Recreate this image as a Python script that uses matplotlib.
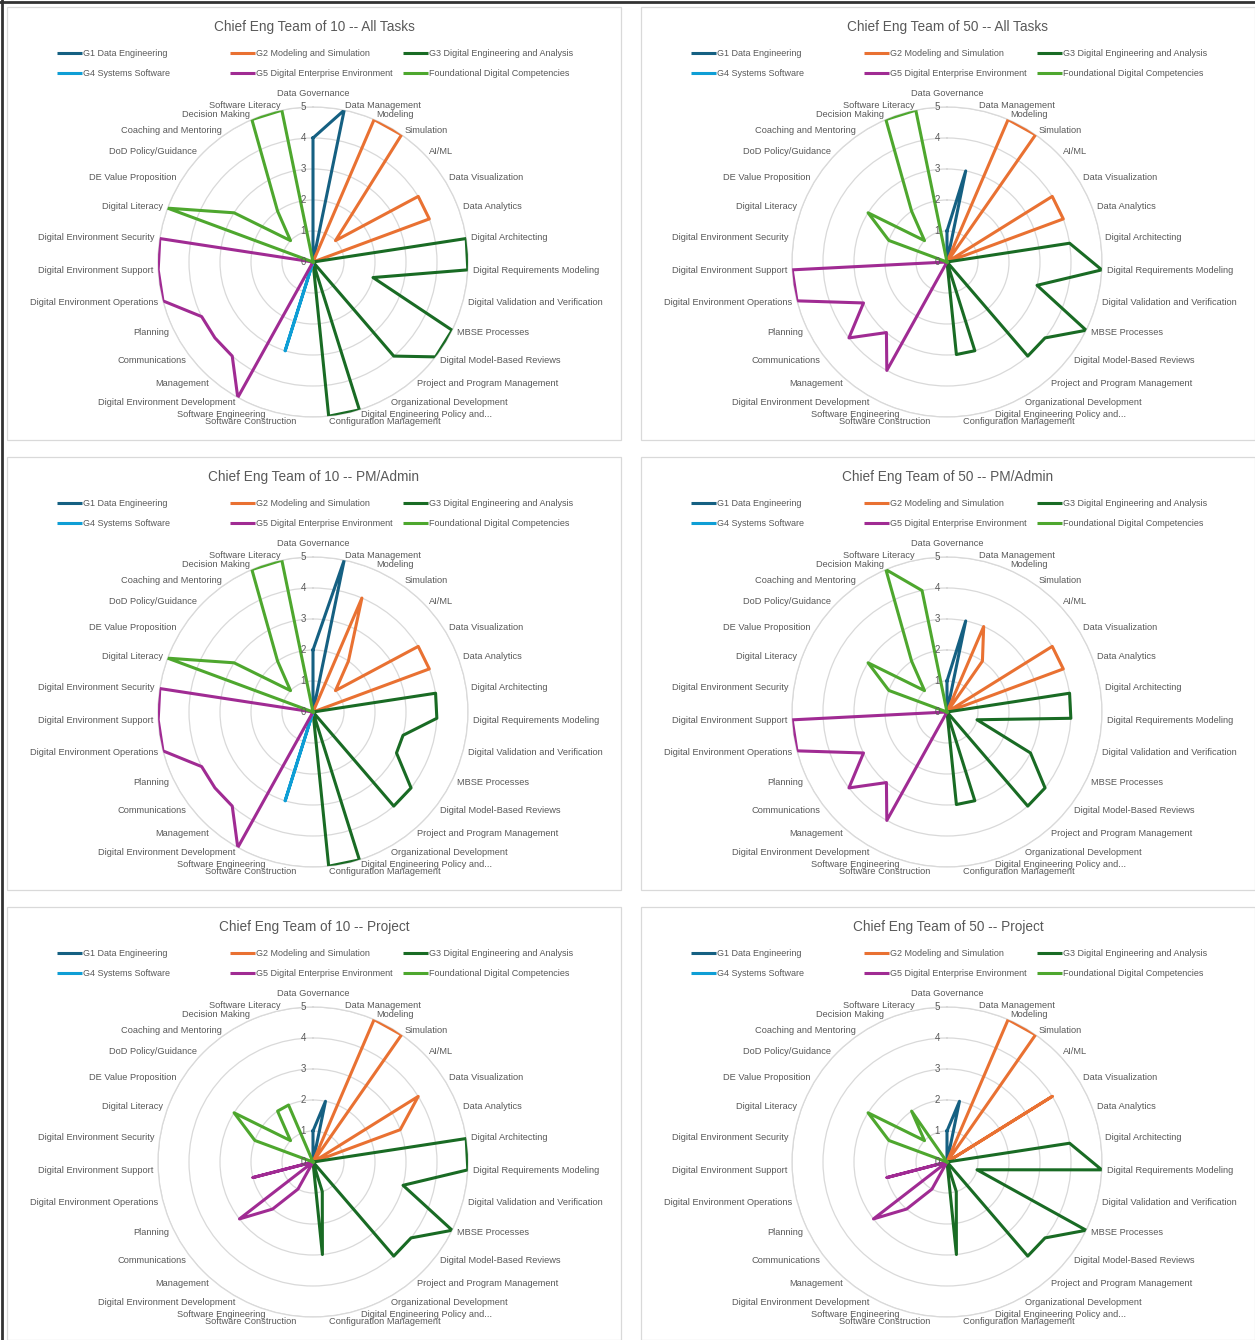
import numpy as np
import matplotlib
matplotlib.use('Agg')
import matplotlib.pyplot as plt
from matplotlib.patches import Rectangle
from matplotlib.lines import Line2D
from matplotlib.transforms import offset_copy

W, H = 1255, 1340

plt.rcParams['font.family'] = ['Liberation Sans', 'DejaVu Sans']

# ── categories, grouped by competency series (clockwise from top) ────────────
G1_CATS = ['Data Governance', 'Data Management']
G2_CATS = ['Modeling', 'Simulation', 'AI/ML', 'Data Visualization', 'Data Analytics']
G3_CATS = ['Digital Architecting', 'Digital Requirements Modeling',
           'Digital Validation and Verification', 'MBSE Processes',
           'Digital Model-Based Reviews', 'Project and Program Management',
           'Organizational Development', 'Digital Engineering Policy and...',
           'Configuration Management']
G4_CATS = ['Software Construction', 'Software Engineering']
G5_CATS = ['Digital Environment Development', 'Management', 'Communications',
           'Planning', 'Digital Environment Operations',
           'Digital Environment Support', 'Digital Environment Security']
G6_CATS = ['Digital Literacy', 'DE Value Proposition', 'DoD Policy/Guidance',
           'Coaching and Mentoring', 'Decision Making', 'Software Literacy']

SERIES = ['G1 Data Engineering', 'G2 Modeling and Simulation',
          'G3 Digital Engineering and Analysis', 'G4 Systems Software',
          'G5 Digital Enterprise Environment', 'Foundational Digital Competencies']
COLORS = ['#156082', '#E97132', '#196B24', '#0F9ED5', '#A02B93', '#4EA72E']

TITLES = ['Chief Eng Team of 10 -- All Tasks', 'Chief Eng Team of 50 -- All Tasks',
          'Chief Eng Team of 10 -- PM/Admin', 'Chief Eng Team of 50 -- PM/Admin',
          'Chief Eng Team of 10 -- Project', 'Chief Eng Team of 50 -- Project']

# ── scores, one row per chart (same order as TITLES) ─────────────────────────
G1_SCORES = [[4, 5], [1, 3], [2, 5], [1, 3], [1, 2], [1, 2]]
G2_SCORES = [[5, 5, 1, 4, 4], [5, 5, 0, 4, 4], [4, 2, 1, 4, 4],
             [3, 2, 0, 4, 4], [5, 5, 0, 4, 3], [5, 5, 0, 4, 0]]
G3_SCORES = [[5, 5, 2, 5, 5, 4, 0, 5, 5], [4, 5, 3, 5, 4, 4, 0, 3, 3],
             [4, 4, 3, 3, 4, 4, 0, 5, 5], [4, 4, 1, 3, 4, 4, 0, 3, 3],
             [5, 5, 3, 5, 4, 4, 0, 1, 3], [4, 5, 1, 5, 4, 4, 0, 1, 3]]
G4_SCORES = [[0, 3], [0, 0], [0, 3], [0, 0], [0, 0], [0, 0]]
G5_SCORES = [[5, 4, 4, 4, 5, 5, 5], [4, 3, 4, 3, 5, 5, 0],
             [5, 4, 4, 4, 5, 5, 5], [4, 3, 4, 3, 5, 5, 0],
             [1, 2, 3, 0, 2, 0, 0], [1, 2, 3, 0, 2, 0, 0]]
G6_SCORES = [[5, 3, 1, 2, 5, 5], [2, 3, 1, 2, 5, 5], [5, 3, 1, 2, 5, 5],
             [2, 3, 1, 2, 5, 4], [2, 3, 1, 2, 2, 0], [2, 3, 1, 2, 0, 0]]

GROUP_CATS = [G1_CATS, G2_CATS, G3_CATS, G4_CATS, G5_CATS, G6_CATS]
GROUP_SCORES = [G1_SCORES, G2_SCORES, G3_SCORES, G4_SCORES, G5_SCORES, G6_SCORES]
CATEGORIES = [c for cats in GROUP_CATS for c in cats]
N = len(CATEGORIES)
THETA = np.arange(N) * 2 * np.pi / N

TEXT = '#595959'
GRID = '#D9D9D9'
LABEL_SIZE = 6.7

# panel geometry in pixels
PANEL_LEFT = [7, 641]
PANEL_TOP = [7, 457, 907]
PANEL_W, PANEL_H = 614, 433
RADIUS = 155


def fx(x):
    return x / W


def fy(y):
    return 1 - y / H


def full_vector(g, chart):
    vals = np.zeros(N)
    start = sum(len(c) for c in GROUP_CATS[:g])
    vals[start:start + len(GROUP_CATS[g])] = GROUP_SCORES[g][chart]
    return vals


fig = plt.figure(figsize=(W / 100, H / 100), dpi=100)
fig.patch.set_facecolor('white')

# outer dark frame of the screenshot
fig.add_artist(Line2D([0, 1], [fy(1.5), fy(1.5)], color='#333333', lw=2))
fig.add_artist(Line2D([fx(1.5), fx(1.5)], [0, 1], color='#333333', lw=2))

for chart, title in enumerate(TITLES):
    left = PANEL_LEFT[chart % 2]
    top = PANEL_TOP[chart // 2]

    fig.add_artist(Rectangle((fx(left), fy(top + PANEL_H)), PANEL_W / W, PANEL_H / H,
                             transform=fig.transFigure, fill=False,
                             edgecolor=GRID, lw=0.9))

    fig.text(fx(left + 307), fy(top + 20), title, ha='center', va='center',
             fontsize=9.8, color=TEXT)

    # legend: 3 columns x 2 rows
    for j, (name, color) in enumerate(zip(SERIES, COLORS)):
        x0 = left + 50 + (j % 3) * 173
        y0 = top + 46 + (j // 3) * 20
        fig.add_artist(Line2D([fx(x0), fx(x0 + 25)], [fy(y0), fy(y0)],
                              color=color, lw=2.2, solid_capstyle='butt'))
        fig.text(fx(x0 + 26), fy(y0), name, ha='left', va='center',
                 fontsize=6.5, color=TEXT)

    cx, cy = left + 306, top + 255
    ax = fig.add_axes([fx(cx - RADIUS), fy(cy + RADIUS), 2 * RADIUS / W, 2 * RADIUS / H],
                      projection='polar')
    ax.set_theta_zero_location('N')
    ax.set_theta_direction(-1)
    ax.set_ylim(0, 5)
    ax.set_yticks([1, 2, 3, 4, 5])
    ax.set_yticklabels([])
    ax.set_xticks([])
    ax.yaxis.grid(True, color=GRID, lw=0.9)
    ax.spines['polar'].set_color(GRID)
    ax.spines['polar'].set_linewidth(0.9)
    ax.set_facecolor('none')

    for g in range(len(SERIES)):
        vals = full_vector(g, chart)
        ax.plot(np.append(THETA, THETA[0]), np.append(vals, vals[0]),
                color=COLORS[g], lw=2.2, zorder=3 + g)

    # radial value labels along the top spoke
    lab_tr = offset_copy(ax.transData, fig=fig, x=-7, y=0, units='dots')
    for r in range(6):
        ax.text(0, r, str(r), transform=lab_tr, ha='right', va='center',
                fontsize=7, color=TEXT, zorder=10)

    # category labels
    for t, name in zip(THETA, CATEGORIES):
        s = np.sin(t)
        if abs(s) < 0.05:
            ax.text(t, 5.3, name, ha='center', va='bottom', fontsize=LABEL_SIZE,
                    color=TEXT, clip_on=False)
        else:
            ax.text(t, 5.17, name, ha='left' if s > 0 else 'right', va='center',
                    fontsize=LABEL_SIZE, color=TEXT, clip_on=False)

fig.savefig('out.png', dpi=100, facecolor='white')
